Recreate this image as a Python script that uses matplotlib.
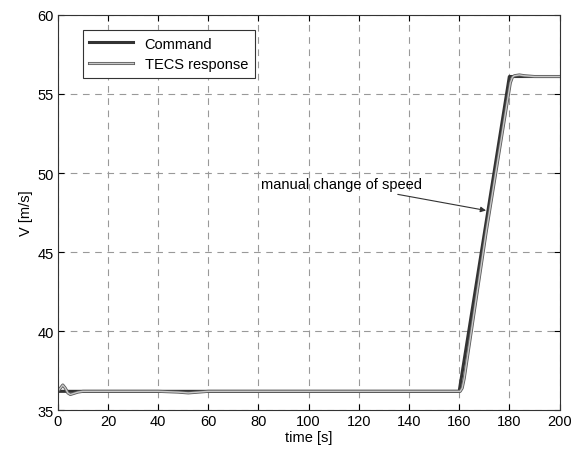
import matplotlib
matplotlib.use("Agg")
import matplotlib.pyplot as plt
import matplotlib.patheffects as pe

plt.rcParams['font.family'] = ['Liberation Sans', 'DejaVu Sans']

# command speed
cmd_t = [0, 160, 180, 200]
cmd_v = [36.2, 36.2, 56.1, 56.1]

# TECS response
resp_t = [0, 1, 2, 3, 4, 5, 6, 8, 10, 20, 40, 48, 52, 56, 60, 100, 140, 160.4, 161.2, 162, 170.8, 180.4, 181.2, 182, 184, 186, 190, 200]
resp_v = [36.2, 36.4, 36.6, 36.4, 36.1, 36.0, 36.05, 36.15, 36.2, 36.2, 36.2, 36.15, 36.1, 36.15, 36.2, 36.2, 36.2, 36.2, 36.4, 37.0, 46.3, 55.7, 56.05, 56.15, 56.2, 56.15, 56.1, 56.1]

fig = plt.figure(figsize=(5.78, 4.52), dpi=100)
ax = fig.add_axes([0.100, 0.090, 0.868, 0.875])

ax.plot(cmd_t, cmd_v, color='#333333', lw=2.2, label='Command')
ax.plot(resp_t, resp_v, color='#c8c8c8', lw=1.0, label='TECS response',
        path_effects=[pe.Stroke(linewidth=2.2, foreground='#5a5a5a'), pe.Normal()])

ax.set_xlim(0, 200)
ax.set_ylim(35, 60)
ax.set_xticks(range(0, 201, 20))
ax.set_yticks(range(35, 61, 5))
ax.grid(True, linestyle=(0, (6, 5)), color='#999999', lw=0.8)
ax.tick_params(direction='in', top=True, right=True, labelsize=10.5, length=4, pad=3)
for s in ax.spines.values():
    s.set_color('#333333')
ax.set_xlabel('time [s]', fontsize=10.5, labelpad=1)
ax.set_ylabel('V [m/s]', fontsize=10.5, labelpad=3)

ax.annotate('manual change of speed', xy=(171.8, 47.6), xytext=(81, 49.3),
            fontsize=10.5, va='center',
            arrowprops=dict(arrowstyle='-|>', color='#333333', lw=0.8, mutation_scale=8))

leg = ax.legend(loc='upper left', bbox_to_anchor=(0.035, 0.98), fontsize=10.5,
                fancybox=False, framealpha=1, edgecolor='#333333',
                handlelength=3.0, borderpad=0.45, labelspacing=0.45)
leg.get_frame().set_linewidth(0.8)

fig.savefig('out.png', dpi=100)
